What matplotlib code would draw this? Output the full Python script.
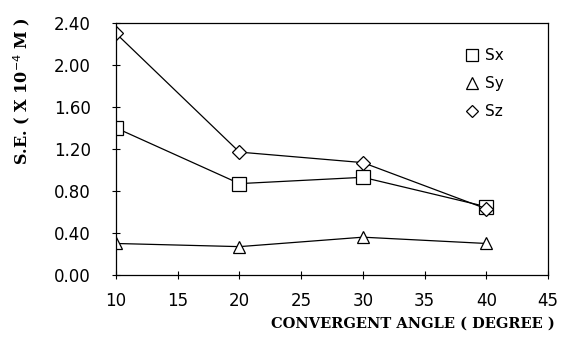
import numpy as np
import matplotlib.pyplot as plt

angle = [10, 20, 30, 40]
sx = [1.40, 0.87, 0.93, 0.65]
sy = [0.30, 0.27, 0.36, 0.30]
sz = [2.30, 1.17, 1.07, 0.63]

xticks = [10, 15, 20, 25, 30, 35, 40, 45]
yticks = [0.0, 0.4, 0.8, 1.2, 1.6, 2.0, 2.4]

fig = plt.figure(figsize=(5.64, 3.37), dpi=100)
ax = fig.add_axes([0.2057, 0.184, 0.766, 0.748])

ax.plot(angle, sx, 'k-', marker='s', ms=10, mfc='white', mew=0.9, lw=0.9, label='Sx')
ax.plot(angle, sy, 'k-', marker='^', ms=9, mfc='white', mew=0.9, lw=0.9, label='Sy')
ax.plot(angle, sz, 'k-', marker='D', ms=7, mfc='white', mew=0.9, lw=0.9, label='Sz')

ax.set_xlim(10, 45)
ax.set_ylim(0, 2.4)
ax.set_xticks(xticks)
ax.set_yticks(yticks)
ax.set_yticklabels(['%.2f' % v for v in yticks])
ax.tick_params(direction='inout', length=6, width=0.8, labelsize=12)
ax.tick_params(axis='y', pad=15)
ax.tick_params(axis='x', pad=9)
for s in ax.spines.values():
    s.set_linewidth(0.9)

fig.text(0.039, 0.73, 'S.E. ( X 10$^{-4}$ M )', family='DejaVu Serif', fontweight='bold',
         fontsize=11.5, rotation=90, ha='center', va='center')
fig.text(0.983, 0.018, 'CONVERGENT ANGLE ( DEGREE )', family='DejaVu Serif', fontweight='bold',
         fontsize=10.5, ha='right', va='bottom')

leg = ax.legend(loc='upper right', bbox_to_anchor=(0.93, 0.955), frameon=False, fontsize=11,
                handlelength=0.8, handletextpad=0.5, labelspacing=0.85, markerscale=0.9)
for h in leg.legend_handles:
    h.set_linestyle('None')

plt.savefig('out.png', dpi=100)
